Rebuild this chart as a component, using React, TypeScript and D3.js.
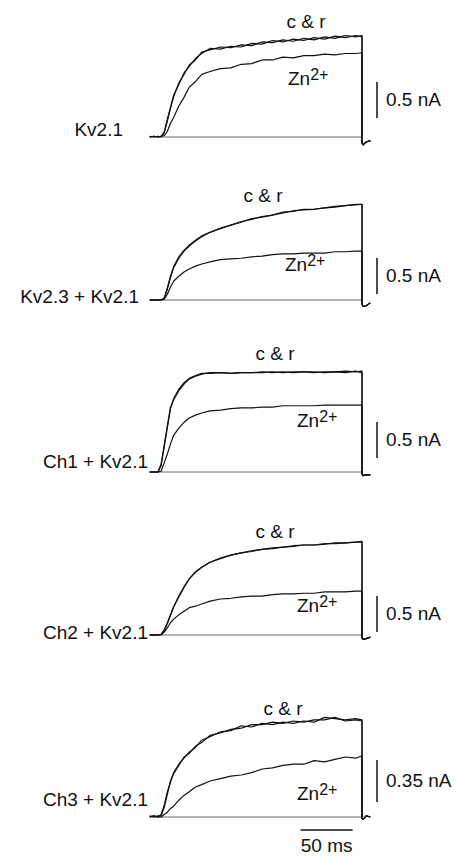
import React from 'react';
import * as d3 from 'd3';

// sample times (ms from pulse onset), shared by every trace
const TIME_MS = [-8, -4, 0, 3, 6, 9, 12, 15, 20, 25, 30, 36, 42, 50, 60, 70, 80, 90, 100, 110, 120, 130, 140, 150, 160, 170, 180, 190, 196];
const TAIL_MS = [196, 197, 200, 204];

const PANEL_NAMES = ['Kv2.1', 'Kv2.3 + Kv2.1', 'Ch1 + Kv2.1', 'Ch2 + Kv2.1', 'Ch3 + Kv2.1'];
const SCALE_NA = [0.5, 0.5, 0.5, 0.5, 0.35];
const SCALE_LABELS = ['0.5 nA', '0.5 nA', '0.5 nA', '0.5 nA', '0.35 nA'];
const TIME_BAR_MS = [137, 187];

// currents in nA: control (c), recovery (r), zinc (zn)
const KV21_C = [0, .01, 0, .01, .07, .25, .41, .58, .73, .89, .98, 1.09, 1.16, 1.23, 1.22, 1.26, 1.25, 1.30, 1.29, 1.34, 1.32, 1.36, 1.34, 1.38, 1.36, 1.40, 1.38, 1.41, 1.39];
const KV21_R = [.01, 0, .01, 0, .06, .22, .40, .56, .75, .87, 1.00, 1.07, 1.18, 1.21, 1.25, 1.24, 1.28, 1.27, 1.32, 1.31, 1.35, 1.33, 1.37, 1.35, 1.39, 1.37, 1.41, 1.39, 1.41];
const KV21_ZN = [0, .01, 0, .01, .02, .08, .19, .27, .43, .55, .69, .77, .87, .91, .95, .96, 1.01, 1.02, 1.07, 1.07, 1.11, 1.10, 1.13, 1.13, 1.15, 1.14, 1.16, 1.16, 1.17];

const KV23_C = [0, 0, 0, 0, .03, .17, .33, .46, .60, .69, .76, .83, .89, .94, 1.0, 1.04, 1.08, 1.13, 1.15, 1.18, 1.21, 1.24, 1.25, 1.26, 1.28, 1.29, 1.31, 1.32, 1.33];
const KV23_R = [0, 0, 0, 0, .02, .15, .31, .45, .58, .68, .75, .82, .88, .94, .99, 1.04, 1.09, 1.12, 1.16, 1.18, 1.22, 1.23, 1.26, 1.26, 1.28, 1.30, 1.31, 1.33, 1.33];
const KV23_ZN = [0, 0, 0, 0, .01, .08, .18, .26, .33, .39, .43, .47, .50, .53, .56, .57, .58, .60, .61, .63, .64, .64, .65, .65, .65, .67, .67, .68, .68];

const CH1_C = [0, 0, 0, .11, .38, .64, .90, 1.0, 1.13, 1.22, 1.29, 1.33, 1.36, 1.38, 1.38, 1.37, 1.38, 1.38, 1.38, 1.39, 1.38, 1.39, 1.39, 1.38, 1.39, 1.39, 1.40, 1.39, 1.40];
const CH1_R = [0, 0, 0, .09, .35, .62, .88, 1.02, 1.15, 1.24, 1.30, 1.34, 1.37, 1.37, 1.38, 1.37, 1.38, 1.38, 1.39, 1.38, 1.39, 1.38, 1.39, 1.39, 1.38, 1.39, 1.38, 1.40, 1.38];
const CH1_ZN = [0, 0, 0, .01, .13, .25, .39, .51, .61, .69, .75, .79, .82, .85, .86, .88, .89, .89, .90, .90, .92, .92, .92, .92, .93, .93, .93, .93, .93];

const CH2_C = [0, 0, 0, .01, .07, .17, .28, .39, .54, .67, .78, .88, .94, 1.01, 1.07, 1.11, 1.14, 1.17, 1.19, 1.21, 1.22, 1.24, 1.25, 1.25, 1.26, 1.28, 1.28, 1.29, 1.29];
const CH2_R = [0, 0, 0, .01, .06, .16, .27, .39, .53, .66, .78, .87, .94, 1.01, 1.06, 1.11, 1.14, 1.16, 1.19, 1.20, 1.22, 1.23, 1.25, 1.25, 1.27, 1.27, 1.28, 1.29, 1.30];
const CH2_ZN = [0, 0, 0, 0, .04, .10, .17, .22, .28, .33, .38, .40, .43, .47, .50, .51, .53, .54, .54, .56, .57, .57, .58, .58, .60, .60, .60, .61, .61];

const CH3_C = [0, .01, 0, .02, .10, .21, .29, .37, .44, .49, .54, .58, .64, .67, .71, .72, .76, .75, .78, .77, .79, .78, .80, .79, .83, .82, .81, .82, .81];
const CH3_R = [.01, 0, .01, .01, .08, .19, .30, .36, .43, .50, .53, .59, .62, .68, .70, .73, .74, .77, .77, .79, .78, .80, .79, .81, .81, .83, .80, .81, .80];
const CH3_ZN = [0, .01, 0, 0, .02, .04, .07, .09, .14, .18, .21, .25, .27, .30, .32, .34, .35, .37, .40, .41, .43, .44, .44, .47, .46, .48, .50, .49, .51];

const TRACES = [
  [KV21_C, KV21_R, KV21_ZN],
  [KV23_C, KV23_R, KV23_ZN],
  [CH1_C, CH1_R, CH1_ZN],
  [CH2_C, CH2_R, CH2_ZN],
  [CH3_C, CH3_R, CH3_ZN],
];

// tail currents after the pulse
const TAIL_NA = [
  [-0.08, -0.11, -0.07, -0.05],
  [-0.06, -0.09, -0.08, -0.04],
  [-0.03, -0.05, -0.04, -0.04],
  [-0.04, -0.06, -0.05, -0.03],
  [-0.01, -0.02, 0.01, 0],
];

// page layout for each panel
const LAYOUT = [
  { base: 137, pxPerNa: 72, barBottom: 118, nameX: 123, nameY: 136, crX: 306, crY: 28, znX: 288, znY: 85 },
  { base: 300, pxPerNa: 72, barBottom: 294, nameX: 139, nameY: 303, crX: 263, crY: 202, znX: 285, znY: 271 },
  { base: 472, pxPerNa: 72, barBottom: 458, nameX: 148, nameY: 468, crX: 275, crY: 360, znX: 297, znY: 427 },
  { base: 635, pxPerNa: 72, barBottom: 632, nameX: 148, nameY: 639, crX: 275, crY: 538, znX: 297, znY: 612 },
  { base: 817, pxPerNa: 120, barBottom: 802, nameX: 148, nameY: 806, crX: 283, crY: 715, znX: 297, znY: 800 },
];

const W = 457;
const H = 857;
const FONT = "'Liberation Sans', Arial, sans-serif";
const FS = 19;

export default function App() {
  const x = d3.scaleLinear().domain([0, 196]).range([158, 362]);

  return (
    <svg width={W} height={H} style={{ position: 'absolute', left: 0, top: 0, background: '#fff' }}
      fontFamily={FONT} fontSize={FS} fill="#111">
      {LAYOUT.map((lay, p) => {
        const y = d3.scaleLinear().domain([0, 1]).range([lay.base, lay.base - lay.pxPerNa]);
        const line = d3.line<[number, number]>().x((d) => x(d[0])).y((d) => y(d[1]));
        const tail = TAIL_MS.map((t, i) => [t, TAIL_NA[p][i]] as [number, number]);
        const barTop = lay.barBottom - SCALE_NA[p] * lay.pxPerNa;
        return (
          <g key={p}>
            <line x1={x(-8)} x2={x(196)} y1={y(0)} y2={y(0)} stroke="#444" strokeWidth={0.8} />
            {TRACES[p].map((vals, k) => {
              const pts = TIME_MS.map((t, i) => [t, vals[i]] as [number, number]).concat(tail);
              return <path key={k} d={line(pts) || ''} fill="none" stroke="#111" strokeWidth={1.2} strokeLinejoin="round" />;
            })}
            <line x1={377} x2={377} y1={barTop} y2={lay.barBottom} stroke="#111" strokeWidth={1.5} />
            <text x={386} y={(barTop + lay.barBottom) / 2 + 6}>{SCALE_LABELS[p]}</text>
            <text x={lay.nameX} y={lay.nameY} textAnchor="end">{PANEL_NAMES[p]}</text>
            <text x={lay.crX} y={lay.crY} textAnchor="middle">c &amp; r</text>
            <text x={lay.znX} y={lay.znY}>
              Zn<tspan dy={-5} fontSize={16}>2+</tspan>
            </text>
          </g>
        );
      })}
      <line x1={x(TIME_BAR_MS[0])} x2={x(TIME_BAR_MS[1])} y1={830} y2={830} stroke="#111" strokeWidth={1.3} />
      <text x={(x(TIME_BAR_MS[0]) + x(TIME_BAR_MS[1])) / 2} y={852} textAnchor="middle">50 ms</text>
    </svg>
  );
}
